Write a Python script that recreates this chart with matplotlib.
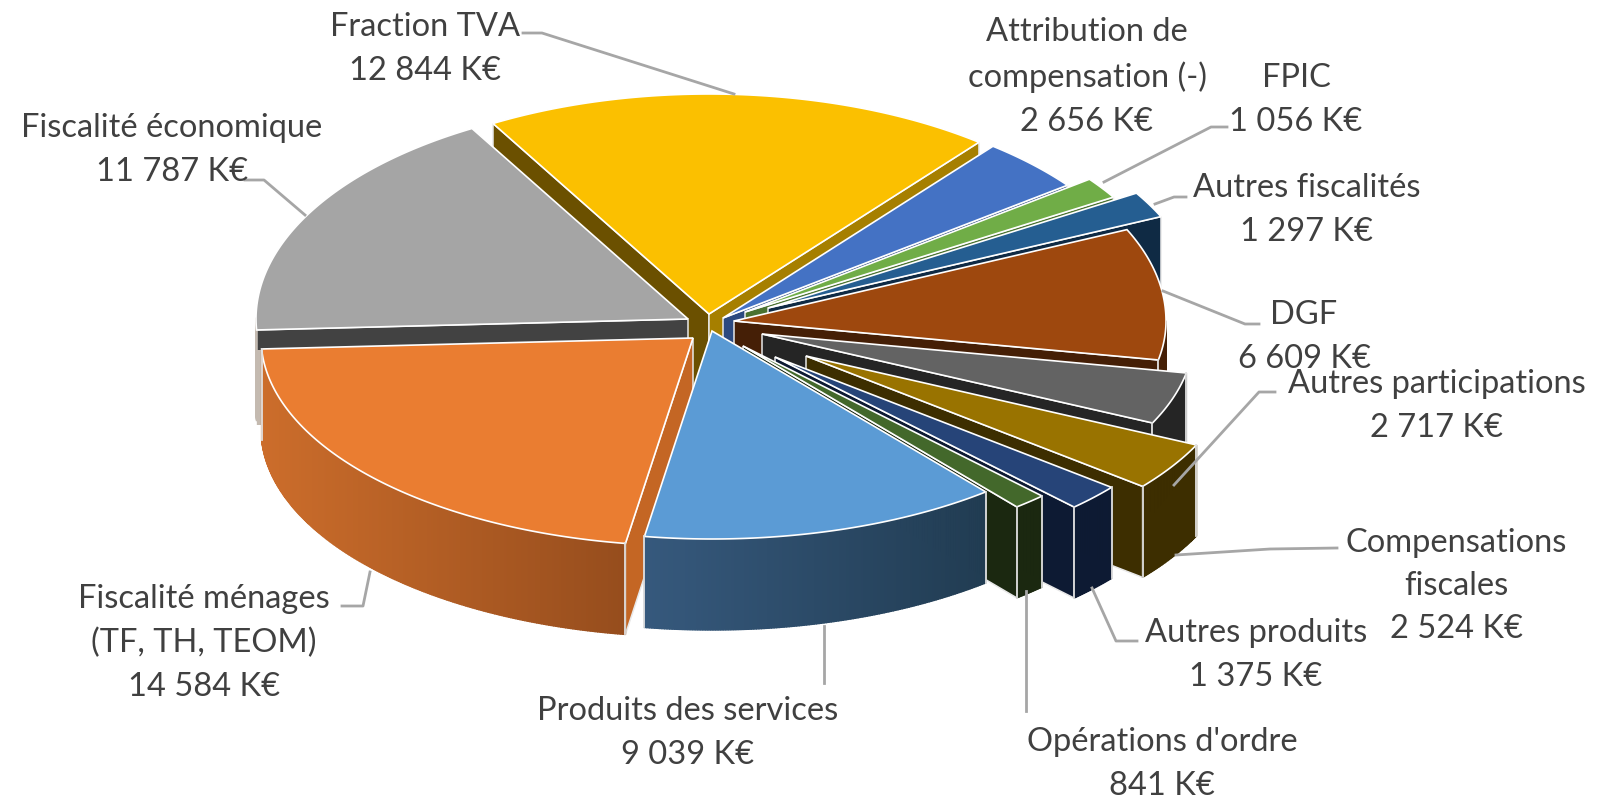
import numpy as np
import matplotlib
matplotlib.use("Agg")
import matplotlib.pyplot as plt
from matplotlib.colors import to_rgb

# Data, clockwise from the first slice
names = ["Fraction TVA", "Attribution de\ncompensation (-)", "FPIC", "Autres fiscalités", "DGF",
         "Autres participations", "Compensations\nfiscales", "Autres produits", "Opérations d'ordre",
         "Produits des services", "Fiscalité ménages\n(TF, TH, TEOM)", "Fiscalité économique"]
values = [12844, 2656, 1056, 1297, 6609, 2717, 2524, 1375, 841, 9039, 14584, 11787]

# Slice styles: how far each slice is pulled out of the pie, in pixels
explode_x = [1, 15, 37, 60, 26, 54, 98, 67, 35, 4, -15, -20]
explode_y = [-15, -11, -17, -21, -8, 5, 27, 28, 17, 2, 9, -10]
top_colors = ["#FBC000", "#4472C4", "#70AD47", "#255E91", "#9E480E", "#636363",
              "#997300", "#264478", "#43682B", "#5B9BD5", "#EA7D31", "#A5A5A5"]
cut_start = ["#6B5000", "#1E3560", "#2E4A1C", "#0F2A44", "#451F06", "#252525",
             "#3D2E00", "#0D1A33", "#1B2810", "#2A4560", "#C46624", "#424242"]
cut_end = ["#A67F00", "#2C4A80", "#4A7230", "#0F2A44", "#451F06", "#252525",
           "#3D2E00", "#0D1A33", "#1B2810", "#2A4560", "#C46624", "#424242"]
wall_a = ["#A67F00", "#2C4A80", "#4A7230", "#0F2A44", "#451F06", "#252525",
          "#3D2E00", "#0D1A33", "#1B2810", "#213C52", "#964D1D", "#C4BAB0"]
wall_b = ["#A67F00", "#2C4A80", "#4A7230", "#0F2A44", "#451F06", "#252525",
          "#3D2E00", "#0D1A33", "#1B2810", "#36597D", "#CC6D2B", "#C4BAB0"]
draw_order = [0, 1, 2, 3, 4, 11, 5, 6, 7, 8, 10, 9]

# Pie geometry in pixels
cx, cy = 708, 329
rx = 432
ry_back, ry_front = 220, 208
depth = 91
start_angle = -30

# Label placement: centre of each text block
label_pos = [(425, 49), (1087, 77), (1296, 100), (1307, 210), (1304, 337), (1437, 406),
             (1456, 586), (1256, 655), (1162, 764), (688, 733), (204, 643), (172, 150)]
leaders = [[(523, 33), (542, 33), (734, 94)],
           [],
           [(1227, 127), (1211, 127), (1104, 182)],
           [(1186, 197), (1174, 197), (1155, 204)],
           [(1259, 324), (1245, 324), (1163, 291)],
           [(1275, 392), (1259, 392), (1174, 485)],
           [(1337, 548), (1270, 549), (1176, 555)],
           [(1137, 641), (1116, 641), (1092, 588)],
           [(1026, 591), (1026, 711)],
           [(824, 626), (824, 683)],
           [(342, 606), (363, 606), (370, 572)],
           [(245, 180), (264, 180), (305, 215)]]

plt.rcParams['font.family'] = ['Lato', 'DejaVu Sans']

fig = plt.figure(figsize=(16.03, 7.98), dpi=100)
ax = fig.add_axes([0, 0, 1, 1])
ax.set_xlim(0, 1603)
ax.set_ylim(798, 0)
ax.axis("off")

# Slice angles from the values
bounds = start_angle + np.concatenate([[0], np.cumsum(values)]) / sum(values) * 360.0


def arc_points(x0, y0, a0, a1, n):
    t = np.radians(np.linspace(a0, a1, n))
    c = np.cos(t)
    return x0 + rx * np.sin(t), y0 - np.where(c > 0, ry_back, ry_front) * c


def draw_cut(x0, y0, angle, color):
    ex, ey = arc_points(x0, y0, angle, angle, 1)
    xs = [x0, ex[0], ex[0], x0]
    ys = [y0, ey[0], ey[0] + depth, y0 + depth]
    ax.fill(xs, ys, facecolor=color, edgecolor="#E8E8E8", linewidth=1.1, zorder=2)


def draw_slice(i):
    a0, a1 = bounds[i], bounds[i + 1]
    x0 = cx + explode_x[i]
    y0 = cy + explode_y[i]

    # radial cuts, only when they face the viewer
    if np.cos(np.radians(a0 - 90)) < 0:
        draw_cut(x0, y0, a0, cut_start[i])
    if np.cos(np.radians(a1 + 90)) < 0:
        draw_cut(x0, y0, a1, cut_end[i])

    # outer wall, in thin strips for the gradient
    n = max(int(a1 - a0) * 3, 6)
    xs, ys = arc_points(x0, y0, a0, a1, n)
    front = np.cos(np.radians(np.linspace(a0, a1, n))) < 0
    c0, c1 = np.array(to_rgb(wall_a[i])), np.array(to_rgb(wall_b[i]))
    xmin, xmax = xs.min(), xs.max()
    for k in range(n - 1):
        if front[k] or front[k + 1]:
            f = (xs[k] - xmin) / (xmax - xmin)
            col = c1 + (c0 - c1) * f
            ax.fill([xs[k], xs[k + 1], xs[k + 1], xs[k]],
                    [ys[k], ys[k + 1], ys[k + 1] + depth, ys[k] + depth],
                    facecolor=col, edgecolor=col, linewidth=1.0, zorder=2)

    # the grey slice shows a pale sliver of wall left of the orange one
    if i == 11:
        ax.plot([xs[0] + 4, xs[0] + 4], [ys[0] + 20, ys[0] + depth + 4], color=wall_a[i],
                linewidth=6, solid_capstyle="butt", zorder=2)

    # top face
    ax.fill(np.r_[x0, xs], np.r_[y0, ys], facecolor=top_colors[i],
            edgecolor="white", linewidth=1.2, zorder=2)

    # vertical edges of the wall
    for k in (0, n - 1):
        if front[k] and i != 11:
            ax.plot([xs[k], xs[k]], [ys[k], ys[k] + depth], color="#E0E0E0", linewidth=1.3, zorder=2)


for i in draw_order:
    draw_slice(i)

# Leader lines
for pts in leaders:
    if pts:
        ax.plot([p[0] for p in pts], [p[1] for p in pts], color="#A6A6A6", linewidth=2, zorder=3)

# Labels
for i, name in enumerate(names):
    txt = name + "\n" + f"{values[i]:,}".replace(",", " ") + " K€"
    ax.text(label_pos[i][0], label_pos[i][1], txt, ha="center", va="center", fontsize=23.5,
            color="#404040", linespacing=1.56, zorder=4)

plt.savefig("out.png", dpi=100)
